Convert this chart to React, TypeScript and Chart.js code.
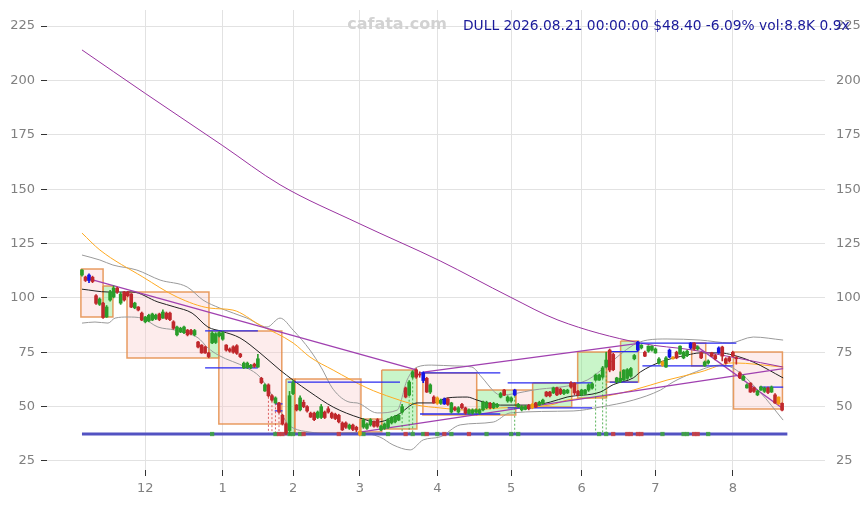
import React, { useEffect, useRef } from "react";
import { Chart, registerables } from "chart.js";

Chart.register(...registerables);

// ---------- calendar ----------
const START_DATE = "2025-11-04";
const END_DATE = "2026-08-21";
const HOLIDAYS = ["2025-11-27", "2025-12-25", "2026-01-01", "2026-01-19", "2026-02-16", "2026-04-03", "2026-05-25", "2026-06-19", "2026-07-03"];

// ---------- OHLC ----------
const opens = [
  110.5, 109.6, 108, 109.5, 101, 97, 97.6, 91.2, 99, 100.4,
  104.5, 97.6, 102.7, 102.7, 101.8, 95.4, 95.8, 93, 89, 89.4,
  89.8, 90.5, 92.6, 90.7, 93, 93, 89, 83, 84.3, 84,
  85.2, 85, 83, 79.7, 78.3, 77.4, 74.7, 79.3, 79.5, 82.5,
  81, 78.3, 76.5, 77.5, 78, 74.2, 67.8, 68, 68, 69.5,
  68.2, 63, 57.2, 60, 55, 51.7, 51.7, 46, 42, 39,
  56, 50.7, 48.5, 52, 50, 47, 47, 45, 45, 47.5,
  49, 47, 46.5, 46, 42.5, 42.5, 40, 41.5, 40.5, 38.6,
  40.6, 40, 41.6, 43, 44, 39.3, 40, 40.6, 42.5, 43,
  43.8, 47.5, 58.6, 55.3, 63.6, 66.8, 65, 65.5, 63, 56.7,
  54.4, 54, 51.5, 51.2, 53.5, 47.5, 49.5, 47.5, 51, 49.4,
  47, 47, 47.5, 47, 48.5, 49.5, 51.5, 49.5, 50, 54.4,
  57.6, 52.6, 52.6, 55.4, 50, 48.5, 48.7, 50.5, 51, 51.7,
  50.7, 51.5, 56.7, 56.7, 56.3, 58.6, 58, 56, 56.3, 60.8,
  60.8, 57, 55.4, 56, 57.6, 58.5, 62.2, 62.2, 63.6, 68.2,
  76, 74, 61.3, 61.5, 62.2, 63, 64, 72, 76, 77,
  75, 75.5, 76, 74.7, 70, 69, 68.2, 72.8, 72, 75,
  74.2, 72.4, 73.5, 77, 79.2, 76.5, 74.7, 68.8, 70, 74.7,
  73.5, 74.7, 77.4, 72, 72.5, 75, 72.5, 65.5, 62.2, 58.6,
  60.8, 58.6, 55.4, 57.6, 57, 58.5, 56.7, 55.4, 54.4, 51.5,
];
const highs = [
  113, 110, 111, 110, 101.5, 100, 98, 96.5, 103.5, 105.5,
  105, 102.5, 103, 103, 102, 98, 96, 93.5, 91.5, 92.5,
  93, 92.5, 93, 94.5, 93.5, 93.5, 89.5, 87, 86.5, 87,
  85.5, 85.5, 85.5, 80, 78.5, 77.8, 75, 84.5, 84, 84.5,
  84.5, 78.5, 77, 78, 78.5, 74.5, 70.5, 70.5, 69.5, 70,
  74, 63.5, 60.5, 60.5, 55.5, 54.5, 52, 46.5, 42.5, 57,
  62, 51, 55, 53, 50.5, 47.5, 47.5, 48, 51, 48,
  50, 47.5, 47, 46.5, 43, 43, 42, 42, 41, 39,
  44.5, 42.5, 44.5, 43.5, 44.5, 41.5, 42.5, 44.5, 45.5, 46,
  46.5, 51, 59, 62, 66.5, 67.5, 66, 66, 63.5, 60.5,
  55, 54.5, 53.5, 54, 54, 52, 50, 50, 51.5, 49.8,
  49, 49, 49, 49, 52.5, 52.5, 52, 52, 51.5, 56.5,
  58, 55, 54.5, 58, 51.5, 50.5, 50.5, 51, 51.5, 52,
  52.5, 53.5, 57, 57, 59, 59, 58.5, 58, 58, 61.5,
  61, 57.5, 58, 58, 60.5, 61, 65, 65, 68.5, 75,
  76.5, 74.5, 63.5, 66, 67, 67.5, 68, 74, 80, 78.5,
  75.5, 78, 78, 77, 72.5, 71, 73, 76.5, 73, 75.5,
  78, 75.5, 76, 79.5, 79.5, 78, 75, 71, 71.5, 75,
  74, 77.5, 77.8, 72.5, 73, 75.5, 73, 66, 64.5, 60.5,
  61, 59, 57.5, 59.5, 59, 59, 59.5, 56, 54.5, 51.7,
];
const lows = [
  110, 107.5, 107, 107, 97, 96.5, 90.5, 91, 98.5, 100,
  102, 97, 98.5, 100.5, 95.5, 95, 94, 89.5, 88.5, 89,
  89.5, 90, 89.5, 90.5, 90, 89.5, 85.5, 82.5, 84, 83.5,
  82.5, 83, 82.5, 77, 74.5, 74.5, 72.5, 79, 79, 82,
  80.5, 75.5, 75, 74.5, 74, 72.5, 67.5, 67.5, 67.5, 68,
  68, 60.5, 57, 54.5, 52.5, 51.5, 47, 41.5, 37, 37,
  55.5, 48, 48, 49.5, 47.5, 45, 43.5, 44.5, 44.5, 44.5,
  47, 44.5, 44, 42.5, 39, 40, 39.5, 39, 38.5, 36.5,
  40, 39.5, 41, 40.5, 40.5, 39, 39.5, 40, 42, 42.5,
  43.5, 47, 54, 55, 63, 63, 63.5, 61, 56.5, 56,
  51.5, 51, 51, 51, 50.5, 47, 48, 47, 49, 46.5,
  46.5, 46.5, 47, 46.5, 48, 49, 49, 49, 49.5, 54,
  55, 52, 52, 55, 49.5, 48, 48.5, 48.5, 49, 49.5,
  50.5, 51, 54.5, 54.5, 56, 55, 55.5, 55.5, 56, 58.5,
  55.5, 55, 55, 55.5, 57, 58, 62, 62, 63, 68,
  66, 66.5, 61, 61, 62, 62.5, 63.5, 71.5, 75.5, 76.5,
  73, 75, 75.5, 74.5, 69.5, 68.5, 68, 72.5, 71.8, 72,
  74, 72, 73, 76.5, 76, 76, 72, 68.5, 69.5, 73,
  71.5, 74.5, 71, 69.5, 70.5, 73, 69.5, 62.8, 62, 58.5,
  56.5, 56.5, 55, 57.5, 56.5, 56, 56.5, 51.5, 51, 48,
];
const closes = [
  112.8, 108, 110.5, 107.5, 97.5, 99.5, 91, 95.8, 102.7, 104.5,
  102.7, 101.8, 99, 101, 95.8, 97.6, 94.4, 89.8, 91.2, 92,
  92.6, 92, 90, 93.5, 90.5, 90, 86, 86.6, 86, 86.6,
  83, 83.5, 85, 77.4, 74.7, 74.7, 73, 83.8, 83.5, 84,
  84, 76, 75.5, 75, 74.5, 73, 70, 70, 69, 68.5,
  72, 61, 60, 55, 53, 54, 47.5, 42, 37.8, 55,
  61, 48.5, 54, 50, 48, 45.2, 44, 47.5, 50, 45,
  47.5, 45, 44.5, 43, 39.3, 40.5, 41.5, 39.5, 39.3, 37,
  43.8, 42, 44, 41, 41, 41, 42, 43.8, 45, 45.5,
  46, 50, 54.4, 61.3, 66, 63.6, 64.5, 62, 56.7, 60,
  51.7, 51.5, 53, 53.5, 51, 51.7, 48.5, 49.5, 49.5, 47,
  48.5, 48.5, 48.5, 48.5, 52, 52, 49.5, 51.5, 51, 56,
  55.3, 54.4, 54, 57.6, 51, 50, 50, 49, 49.5, 49.8,
  52, 53, 54.9, 55, 58.6, 55.4, 56, 57.5, 57.6, 59,
  56.3, 55.5, 57.6, 57.6, 60, 60.5, 64.5, 64.5, 67.8, 71.4,
  66.8, 67, 63.2, 63, 66.8, 67, 67.5, 73.5, 79.7, 78.3,
  73.2, 77.8, 77.8, 76.5, 71.9, 70.5, 72.4, 76, 72.8, 72.4,
  77.8, 75, 75.5, 79.2, 76.5, 77.5, 72.4, 70.5, 71, 73.2,
  72, 77, 73.2, 70, 71, 73.2, 72, 63.2, 64, 60,
  56.7, 57, 57.2, 59, 58.5, 56.5, 59, 51.7, 51.2, 48.4,
];
const blueCandles = [2, 97, 103, 123, 158, 167, 173, 181];
const orangeCandles = [79, 101, 128, 165, 168, 198];

// ---------- indicator lines: [bar index, value] ----------
const ma20 = [
  [0, 104], [7.4, 102.7], [14.2, 102.7], [21.6, 98.1], [26.4, 95.8], [31.3, 93], [35.8, 86.6], [39.8, 84.6],
  [44.9, 81.6], [50.6, 74.7], [56.3, 66.8], [60, 62.2], [64.8, 56.7], [71.4, 49.8], [79, 44.8], [83.9, 42.9],
  [89.6, 46.1], [95.3, 51.7], [99.8, 51.7], [103.8, 54], [109.5, 54.4], [112.3, 53], [115.2, 51.7], [118.9, 50.7],
  [128.2, 50.7], [133.1, 52.1], [137.9, 54.4], [147.3, 56.7], [151, 60.1], [156.7, 63.2], [158.7, 65.9],
  [164.4, 70.5], [172, 73.7], [175.7, 74.7], [181.4, 74.7], [185, 73.7], [190.8, 70.5], [199.3, 63.2],
];
const ma50 = [
  [0, 129.8], [5.1, 122], [17.3, 109.6], [27, 100.4], [36.4, 95.3], [42.9, 94.4], [50.6, 87.5], [60, 79.3],
  [64.8, 72.8], [71.4, 66.8], [81, 58.6], [88.4, 54], [95.3, 50.7], [101.8, 49.4], [109.5, 48.4], [118.9, 49.4],
  [133.1, 50.7], [137.9, 53], [147.3, 54.4], [156.7, 57.6], [166.3, 62.2], [175.7, 65.9], [185, 70.1], [199.3, 68.2],
];
const ma200 = [
  [0, 214], [18, 194], [40, 170], [56.3, 152], [79, 134], [101.8, 117], [121.7, 100.4], [135.3, 89.8],
  [158.7, 79.2], [173.7, 76], [199.3, 68.2],
];
const bandUpper = [
  [0, 119.7], [5.1, 117.4], [8.8, 115.1], [15.6, 112.8], [22.2, 108.2], [29.9, 105], [34.4, 99], [39.2, 95.3],
  [46.9, 90.7], [52.6, 86.6], [56.3, 90.7], [60, 85.2], [64.8, 76], [68, 68], [71.4, 58], [76.2, 52],
  [78.2, 51.7], [83.9, 47.1], [89.6, 48.4], [92.4, 62.2], [95.3, 68.2], [99.4, 69.1], [106, 68.7], [110.8, 68.2],
  [113.6, 63.6], [117.3, 56.7], [118.9, 55.3], [128.2, 57.6], [143.6, 62.2], [149.3, 69.1], [156.7, 78.3],
  [160.7, 80.6], [166.3, 81.1], [175.7, 80.6], [184.2, 79.3], [190.8, 82], [199.3, 80.6],
];
const bandLower = [
  [0, 88.4], [3.7, 88.9], [7.4, 88.4], [9.4, 90.7], [13.1, 91.2], [17, 90.7], [21.6, 86.6], [26.4, 85.2],
  [33, 81.6], [35.8, 77], [38.7, 73.7], [46.9, 67.8], [50.6, 63.6], [54.3, 54.4], [58.3, 42.5], [60, 40.2],
  [64.8, 38.3], [70, 37.5], [78.2, 38], [84.7, 36], [88.4, 32.4], [93.3, 30.1], [97, 34.7], [101.8, 36.1],
  [107.5, 41.6], [116.9, 42.9], [121.7, 47.1], [139.6, 48], [147.3, 49.8], [156.7, 53], [164.4, 57.6],
  [168, 61.3], [173.7, 65.5], [181.4, 69.1], [185, 67.8], [192.7, 56.7], [199.3, 43.8],
];
const trendLines = [
  [[1.5, 109], [95.3, 66.8]],
  [[97, 65.9], [158.7, 79.2]],
  [[79, 38.3], [199.3, 67.5]],
  [[173.4, 79.3], [199.3, 49]],
];

// ---------- ranges (boxes): [from, to, top, bottom, direction] ----------
const boxes = [
  [-0.3, 6, 113.3, 91.2, -1], [6, 8.8, 105.5, 91.2, 1], [12.8, 36.1, 102.7, 72.4, -1],
  [36.1, 38.9, 84.8, 72.4, 1], [38.9, 56.8, 84.8, 42, -1], [58, 60.5, 62.7, 37.9, 1],
  [60.5, 79.3, 62.7, 37.9, -1], [79, 85.2, 44.3, 38.3, -1], [85.2, 95.2, 66.8, 39.7, 1],
  [96.9, 112.2, 65.5, 46.2, -1], [112.2, 123.3, 57.6, 46.2, 1], [123.3, 128.1, 57.6, 49.8, -1],
  [128.1, 139.2, 60.9, 49.8, 1], [140.9, 149.1, 75.1, 54, 1], [149.1, 153.1, 75.1, 61.3, -1],
  [153.1, 158.2, 80.2, 61.3, 1], [173.3, 177.3, 79.2, 68.7, -1], [185.2, 199.1, 75.1, 48.9, -1],
];

// ---------- levels: [from, to, value] ----------
const levels = [
  [35, 50, 84.8], [35, 50, 67.8], [58.5, 90.4, 61.3], [54.8, 57, 51.3], [54.8, 57, 48],
  [96.1, 118.9, 65.5], [96.1, 118.9, 46.6], [121, 145, 60.9], [121, 145, 49.4],
  [150, 158, 75.3], [150, 158, 61.3], [158.7, 186, 79.2], [159.3, 185, 68.7], [192.5, 199.3, 59],
];
const baseLevel = 37.4;
const baseRange = [0, 200.5];
const redDrops = [53, 54, 55, 56];
const greenDrops = [91, 93, 94, 123, 146, 148, 149];
const volGreen = [37, 55, 59, 60, 62, 80, 87, 94, 97, 101, 105, 115, 122, 124, 147, 149, 165, 171, 172, 178];
const volRed = [56, 57, 63, 73, 92, 98, 103, 110, 151, 155, 156, 158, 159, 174, 175];

const yTickValues = [25, 50, 75, 100, 125, 150, 175, 200, 225];
const WATERMARK = "cafata.com";
const INFO = "DULL 2026.08.21 00:00:00 $48.40 -6.09% vol:8.8K 0.9x";

// ---------- styles ----------
const GREEN = "#2a9d2a";
const RED = "#c0282c";
const BLUE = "#1414e6";
const ORANGE = "#f39c12";
const GRID = "#e2e2e2";
const TICK = "#333333";
const LABEL = "#808080";
const FONT = { family: "'DejaVu Sans', sans-serif", size: 13 };

function tradingDays(): string[] {
  const out: string[] = [];
  const d = new Date(START_DATE + "T00:00:00Z");
  const end = new Date(END_DATE + "T00:00:00Z");
  while (d <= end) {
    const wd = d.getUTCDay();
    const s = d.toISOString().slice(0, 10);
    if (wd !== 0 && wd !== 6 && !HOLIDAYS.includes(s)) out.push(s);
    d.setUTCDate(d.getUTCDate() + 1);
  }
  return out;
}

const pts = (arr: any[]) => arr.map(([x, y]: number[]) => ({ x, y }));

const headerPlugin = {
  id: "header",
  afterDraw(chart: any) {
    const ctx = chart.ctx;
    ctx.save();
    ctx.textBaseline = "middle";
    ctx.font = "bold 16px 'DejaVu Sans', sans-serif";
    ctx.fillStyle = "#d2d2d2";
    ctx.textAlign = "center";
    ctx.fillText(WATERMARK, 397, 25);
    ctx.font = "13.8px 'DejaVu Sans', sans-serif";
    ctx.fillStyle = "#1a1a9a";
    ctx.textAlign = "left";
    ctx.fillText(INFO, 463, 26);
    ctx.restore();
  },
};

export default function App() {
  const ref = useRef<HTMLCanvasElement | null>(null);

  useEffect(() => {
    if (!ref.current) return;
    const dates = tradingDays();
    const monthStarts: number[] = [];
    const monthLabels: string[] = [];
    dates.forEach((d, i) => {
      if (i > 0 && d.slice(5, 7) !== dates[i - 1].slice(5, 7)) {
        monthStarts.push(i);
        monthLabels.push(String(parseInt(d.slice(5, 7), 10)));
      }
    });

    const candleColor = closes.map((c, i) =>
      blueCandles.includes(i) ? BLUE : orangeCandles.includes(i) ? ORANGE : c >= opens[i] ? GREEN : RED
    );

    const line = (points: any[], color: string, width: number, order: number, extra: any = {}) => ({
      type: "line",
      data: pts(points),
      borderColor: color,
      borderWidth: width,
      pointRadius: 0,
      fill: false,
      order,
      ...extra,
    });

    const datasets: any[] = [];

    boxes.forEach(([a, b, top, bot, k]) => {
      datasets.push({
        type: "line",
        data: [{ x: a, y: top }, { x: b, y: top }],
        borderWidth: 0,
        borderColor: "rgba(0,0,0,0)",
        pointRadius: 0,
        fill: { value: bot },
        backgroundColor: k > 0 ? "rgba(120,230,120,0.4)" : "rgba(250,200,200,0.35)",
        order: 100,
      });
      datasets.push({
        type: "line",
        data: [{ x: a, y: top }, { x: b, y: top }, { x: b, y: bot }, { x: a, y: bot }, { x: a, y: top }],
        borderColor: "rgba(228,140,70,0.85)",
        borderWidth: 1.5,
        pointRadius: 0,
        fill: false,
        order: 90,
      });
    });

    datasets.push(line(bandUpper, "#9a9a9a", 1, 60, { cubicInterpolationMode: "monotone" }));
    datasets.push(line(bandLower, "#9a9a9a", 1, 60, { cubicInterpolationMode: "monotone" }));
    datasets.push(line(ma50, "#ffaa22", 1, 55, { cubicInterpolationMode: "monotone" }));
    datasets.push(line(ma20, "#222222", 1, 54, { cubicInterpolationMode: "monotone" }));
    datasets.push(line(ma200, "#9933a0", 1, 53, { cubicInterpolationMode: "monotone" }));
    trendLines.forEach((t) => datasets.push(line(t, "#a040b0", 1.3, 50)));

    datasets.push({
      type: "line",
      data: levels.flatMap(([a, b, v]) => [{ x: a, y: v }, { x: b, y: v }, { x: b, y: null }]),
      borderColor: "#2b2bf0",
      borderWidth: 1.3,
      pointRadius: 0,
      fill: false,
      spanGaps: false,
      order: 40,
    });

    datasets.push({
      type: "line",
      data: redDrops.flatMap((i) => [{ x: i, y: lows[i] }, { x: i, y: baseLevel }, { x: i, y: null }]),
      borderColor: "rgba(210,60,60,0.8)",
      borderWidth: 1,
      borderDash: [2, 2],
      pointRadius: 0,
      fill: false,
      spanGaps: false,
      order: 35,
    });
    datasets.push({
      type: "line",
      data: greenDrops.flatMap((i) => [{ x: i, y: lows[i] }, { x: i, y: baseLevel }, { x: i, y: null }]),
      borderColor: "rgba(50,160,50,0.8)",
      borderWidth: 1,
      borderDash: [2, 2],
      pointRadius: 0,
      fill: false,
      spanGaps: false,
      order: 35,
    });

    datasets.push(line([[baseRange[0], baseLevel], [baseRange[1], baseLevel]], "#5252c2", 3, 30));

    const volPts = [...volGreen.map((i) => ({ x: i, y: baseLevel, c: "rgba(60,165,60,0.85)" })), ...volRed.map((i) => ({ x: i, y: baseLevel, c: "rgba(205,60,60,0.85)" }))];
    datasets.push({
      type: "line",
      data: volPts.map((p) => ({ x: p.x, y: p.y })),
      showLine: false,
      pointStyle: "rect",
      pointRadius: 3,
      pointBorderWidth: 0,
      pointBackgroundColor: volPts.map((p) => p.c),
      order: 25,
    });

    datasets.push({
      type: "bar",
      data: lows.map((l, i) => ({ x: i, y: [l, highs[i]] })),
      backgroundColor: candleColor,
      barThickness: 1,
      grouped: false,
      order: 2,
    });
    datasets.push({
      type: "bar",
      data: opens.map((o, i) => ({ x: i, y: [o, closes[i]] })),
      backgroundColor: candleColor,
      barThickness: 3,
      grouped: false,
      order: 1,
    });

    const yTicks = (s: any) => {
      s.ticks = yTickValues.map((v) => ({ value: v }));
    };
    const noPad = (s: any) => {
      s.paddingTop = 0;
      s.paddingBottom = 0;
      s.paddingLeft = 0;
      s.paddingRight = 0;
    };

    const chart = new Chart(ref.current, {
      type: "line",
      data: { datasets },
      options: {
        animation: false,
        responsive: false,
        devicePixelRatio: 1,
        events: [],
        layout: { padding: { top: 10, left: 0, right: 0, bottom: 0 } },
        plugins: { legend: { display: false }, tooltip: { enabled: false }, title: { display: false } },
        scales: {
          x: {
            type: "linear",
            min: -9.94,
            max: 211.2,
            offset: false,
            grid: { color: GRID, tickColor: TICK, tickLength: 6, offset: false },
            border: { display: false },
            ticks: {
              padding: 5,
              autoSkip: false,
              maxRotation: 0,
              font: FONT,
              color: LABEL,
              callback: (v: any) => {
                const k = monthStarts.indexOf(Number(v));
                return k >= 0 ? monthLabels[k] : "";
              },
            },
            afterBuildTicks: (s: any) => {
              s.ticks = monthStarts.map((v) => ({ value: v }));
            },
            afterFit: (s: any) => {
              s.height = 35;
              noPad(s);
            },
          },
          y: {
            type: "linear",
            position: "left",
            min: 20.86,
            max: 232.36,
            grid: { color: GRID, tickColor: TICK, tickLength: 6 },
            border: { display: false },
            ticks: { padding: 6, font: FONT, color: LABEL },
            afterBuildTicks: yTicks,
            afterFit: (s: any) => {
              s.width = 47;
              noPad(s);
            },
          },
          y2: {
            type: "linear",
            position: "right",
            min: 20.86,
            max: 232.36,
            grid: { drawOnChartArea: false, drawTicks: false },
            border: { display: false },
            ticks: { padding: 11, font: FONT, color: LABEL },
            afterBuildTicks: yTicks,
            afterFit: (s: any) => {
              s.width = 42;
              noPad(s);
            },
          },
        },
      } as any,
      plugins: [headerPlugin],
    } as any);

    return () => chart.destroy();
  }, []);

  return (
    <div style={{ position: "fixed", left: 0, top: 0, width: 867, height: 505, background: "#ffffff" }}>
      <canvas ref={ref} width={867} height={505} style={{ display: "block" }} />
    </div>
  );
}
